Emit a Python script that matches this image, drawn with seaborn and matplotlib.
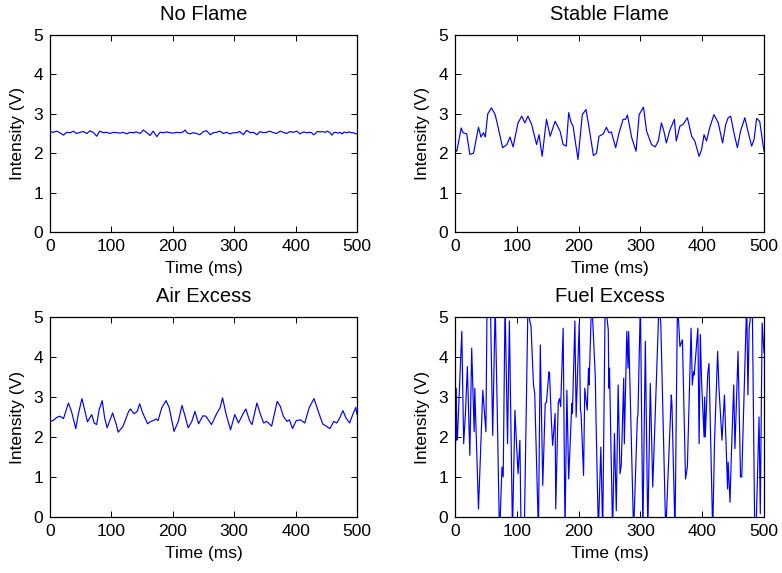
import matplotlib
matplotlib.use("Agg")
import matplotlib.pyplot as plt
import seaborn as sns
import pandas as pd

# ---------------- data ----------------
titles = ["No Flame", "Stable Flame", "Air Excess", "Fuel Excess"]
x_ticks = [0, 100, 200, 300, 400, 500]
y_ticks = [0, 1, 2, 3, 4, 5]

no_flame_t = [0, 5, 11, 16, 22, 27, 33, 38, 43, 49, 54, 60, 65, 71, 76, 81, 87, 92, 98, 103,
              109, 114, 119, 125, 130, 136, 141, 147, 152, 157, 163, 168, 174, 179, 185, 190,
              195, 201, 206, 212, 217, 220, 223, 228, 233, 239, 244, 250, 255, 261, 266, 271,
              277, 282, 288, 293, 299, 304, 309, 315, 320, 326, 331, 337, 342, 347, 353, 358,
              364, 369, 375, 380, 385, 391, 396, 402, 407, 413, 418, 423, 426, 429, 432, 435,
              440, 444, 448, 452, 456, 459, 462, 465, 470, 472, 476, 479, 483, 487, 491, 494, 498, 500]
no_flame_v = [2.56, 2.53, 2.56, 2.52, 2.46, 2.53, 2.52, 2.56, 2.50, 2.53, 2.55, 2.50, 2.57, 2.52,
              2.43, 2.56, 2.52, 2.53, 2.50, 2.53, 2.52, 2.51, 2.53, 2.49, 2.53, 2.52, 2.54, 2.50,
              2.59, 2.53, 2.45, 2.56, 2.42, 2.53, 2.52, 2.54, 2.52, 2.51, 2.53, 2.52, 2.54, 2.59,
              2.52, 2.49, 2.52, 2.50, 2.47, 2.55, 2.57, 2.47, 2.52, 2.53, 2.56, 2.50, 2.53, 2.49,
              2.52, 2.52, 2.55, 2.47, 2.58, 2.52, 2.53, 2.47, 2.55, 2.52, 2.53, 2.56, 2.52, 2.50,
              2.56, 2.53, 2.50, 2.55, 2.53, 2.56, 2.49, 2.54, 2.52, 2.53, 2.52, 2.47, 2.49, 2.55,
              2.54, 2.55, 2.53, 2.56, 2.52, 2.46, 2.52, 2.53, 2.51, 2.53, 2.49, 2.54, 2.52, 2.54,
              2.52, 2.52, 2.49, 2.50]

stable_t = [0, 3, 10, 13, 19, 24, 30, 38, 42, 46, 49, 53, 59, 65, 70, 77, 84, 89, 94, 102, 108,
            113, 118, 124, 132, 136, 141, 148, 154, 162, 170, 175, 180, 184, 188, 191, 199, 206,
            212, 217, 224, 229, 233, 240, 245, 249, 253, 260, 265, 272, 276, 279, 283, 286, 293,
            298, 305, 310, 318, 324, 329, 334, 338, 342, 348, 355, 358, 364, 369, 376, 383, 388,
            395, 399, 403, 407, 412, 419, 426, 433, 438, 442, 446, 452, 457, 462, 469, 474, 480,
            484, 488, 493, 500]
stable_v = [2.1, 2.05, 2.64, 2.52, 2.49, 1.97, 2.0, 2.66, 2.41, 2.52, 2.41, 3.0, 3.15, 2.98, 2.64,
            2.14, 2.22, 2.41, 2.16, 2.77, 2.94, 2.77, 2.94, 2.73, 2.22, 2.47, 1.92, 2.86, 2.43,
            2.81, 2.56, 2.22, 2.18, 3.03, 2.77, 2.69, 1.84, 2.98, 3.11, 2.64, 1.94, 2.0, 2.43,
            2.49, 2.66, 2.52, 2.54, 2.14, 2.49, 2.86, 2.86, 2.97, 2.64, 2.39, 2.05, 2.98, 3.17,
            2.56, 2.22, 2.16, 2.31, 2.77, 2.56, 2.26, 2.60, 2.86, 2.31, 2.69, 2.73, 2.90, 2.43,
            2.31, 1.92, 2.09, 2.47, 2.31, 2.64, 2.98, 2.77, 2.26, 2.73, 2.90, 2.94, 2.47, 2.14,
            2.56, 2.90, 2.56, 2.18, 2.35, 2.88, 2.81, 2.05]

air_t = [0, 5, 11, 16, 22, 30, 35, 42, 46, 52, 57, 61, 68, 72, 76, 80, 85, 89, 93, 102, 108, 111,
         119, 128, 131, 137, 142, 146, 151, 159, 163, 168, 173, 176, 182, 189, 194, 202, 209, 215,
         220, 225, 231, 236, 242, 249, 254, 263, 272, 277, 281, 287, 294, 301, 307, 315, 319, 325,
         329, 337, 342, 348, 353, 361, 370, 375, 380, 386, 390, 395, 401, 408, 415, 422, 430, 437,
         444, 456, 462, 467, 472, 477, 482, 488, 493, 498, 500]
air_v = [2.39, 2.41, 2.49, 2.52, 2.46, 2.85, 2.64, 2.21, 2.56, 2.96, 2.64, 2.38, 2.56, 2.35, 2.31,
         2.68, 2.91, 2.48, 2.23, 2.60, 2.31, 2.12, 2.27, 2.64, 2.70, 2.58, 2.64, 2.83, 2.60, 2.33,
         2.38, 2.41, 2.45, 2.41, 2.73, 2.91, 2.74, 2.14, 2.39, 2.79, 2.52, 2.23, 2.39, 2.64, 2.33,
         2.53, 2.52, 2.31, 2.60, 2.73, 2.98, 2.56, 2.18, 2.56, 2.35, 2.60, 2.70, 2.41, 2.31, 2.85,
         2.60, 2.35, 2.39, 2.27, 2.89, 2.77, 2.52, 2.39, 2.43, 2.21, 2.41, 2.43, 2.35, 2.73, 2.96,
         2.64, 2.33, 2.21, 2.39, 2.35, 2.48, 2.66, 2.48, 2.35, 2.56, 2.74, 2.56]

fuel_t = [0, 2, 3, 4, 11, 14, 17, 20, 24, 27, 31, 32, 38, 45, 50, 52, 57, 61, 65, 68, 72, 76, 78,
          81, 85, 88, 93, 97, 99, 102, 105, 107, 112, 118, 121, 123, 127, 129, 135, 138, 142, 146,
          148, 152, 153, 156, 158, 162, 163, 167, 169, 171, 175, 178, 181, 184, 189, 190, 194,
          196, 201, 203, 204, 208, 210, 214, 216, 217, 221, 222, 227, 228, 232, 236, 239, 243,
          248, 249, 250, 255, 258, 261, 264, 267, 269, 273, 274, 278, 280, 281, 289, 295, 296,
          300, 304, 308, 312, 316, 320, 325, 330, 333, 341, 350, 351, 356, 360, 364, 368, 373,
          376, 382, 384, 386, 387, 393, 395, 397, 399, 403, 404, 405, 409, 411, 417, 420, 425,
          427, 432, 436, 441, 442, 445, 447, 451, 453, 458, 462, 464, 472, 474, 476, 481, 485,
          487, 492, 494, 497, 500]
fuel_v = [0.9, 3.22, 1.92, 2.0, 4.64, 1.83, 2.63, 3.76, 1.54, 4.22, 2.13, 3.22, 0.2, 3.17, 2.13,
          5.6, 5.6, 2.04, 5.3, 2.96, -0.5, 1.25, 1.0, 5.4, 1.83, 4.9, -0.4, 2.67, 2.0, 1.08, 1.92,
          -0.5, -0.5, 5.3, 4.9, 4.77, 3.3, 3.09, -0.4, 4.3, 0.79, 2.84, 2.86, 3.63, 3.59, 2.38,
          1.79, 2.59, 0.2, 2.84, 2.96, 2.76, 4.72, -0.4, 3.17, 0.95, 2.84, 2.59, 4.9, 2.5, 4.85,
          2.67, 2.59, 1.04, 3.22, 2.67, 3.72, 3.3, 5.4, 5.2, 3.51, 2.59, -0.4, 1.75, -0.4, 5.4,
          4.68, 3.22, 3.72, -0.4, 2.09, 0.16, 3.3, 1.08, 1.29, 3.47, 1.83, 4.64, 3.72, 4.64, -0.4,
          2.46, 2.55, 5.4, -0.4, 4.39, -0.4, 3.34, 0.75, 3.0, 5.3, 4.85, -0.4, 3.05, 2.84, -0.4,
          5.4, 4.26, 4.43, 0.95, 1.25, 4.72, 3.3, 3.63, 3.55, 4.72, 1.83, 4.56, 3.38, 2.0, 3.0,
          2.0, 3.59, 3.84, -0.4, 1.92, 4.14, 3.26, 1.92, 3.05, 0.70, 1.37, 0.37, 1.46, 3.3, 1.71,
          4.14, 1.0, 1.0, 5.4, 3.05, 4.72, 5.4, -0.4, -0.4, 2.5, 0.08, 4.85, 4.1]

series_t = [no_flame_t, stable_t, air_t, fuel_t]
series_v = [no_flame_v, stable_v, air_v, fuel_v]

# ---------------- style ----------------
sns.set_theme(style="ticks", rc={
    "xtick.direction": "in", "ytick.direction": "in",
    "xtick.top": True, "ytick.right": True,
    "xtick.major.size": 4, "ytick.major.size": 4,
    "xtick.major.width": 0.7, "ytick.major.width": 0.7,
    "axes.linewidth": 0.9, "axes.edgecolor": "black",
    "xtick.color": "black", "ytick.color": "black",
    "text.color": "black", "axes.labelcolor": "black",
})
plt.rcParams["font.family"] = ["Liberation Sans", "DejaVu Sans"]

W, H = 782, 573
fig = plt.figure(figsize=(W / 100, H / 100), dpi=100)

# axes boxes in pixels: (left, top, right, bottom)
boxes = [(50, 35, 357, 232), (455, 35, 764, 232),
         (50, 317, 357, 517), (455, 317, 764, 517)]

for (l, t, r, b), title, xs, ys in zip(boxes, titles, series_t, series_v):
    ax = fig.add_axes([l / W, 1 - b / H, (r - l) / W, (b - t) / H])
    df = pd.DataFrame({"Time (ms)": xs, "Intensity (V)": ys})
    sns.lineplot(data=df, x="Time (ms)", y="Intensity (V)", ax=ax,
                 color=(0, 0, 1), linewidth=0.85, estimator=None, sort=False)
    ax.set_xlim(0, 500)
    ax.set_ylim(0, 5)
    ax.set_xticks(x_ticks)
    ax.set_yticks(y_ticks)
    ax.tick_params(labelsize=12.5, pad=5)
    ax.set_title(title, fontsize=14.5, pad=11)
    ax.set_xlabel("Time (ms)", fontsize=12.5, labelpad=5)
    ax.set_ylabel("Intensity (V)", fontsize=12.5, labelpad=6)
    for s in ax.spines.values():
        s.set_visible(True)

fig.savefig("out.png", dpi=100)
